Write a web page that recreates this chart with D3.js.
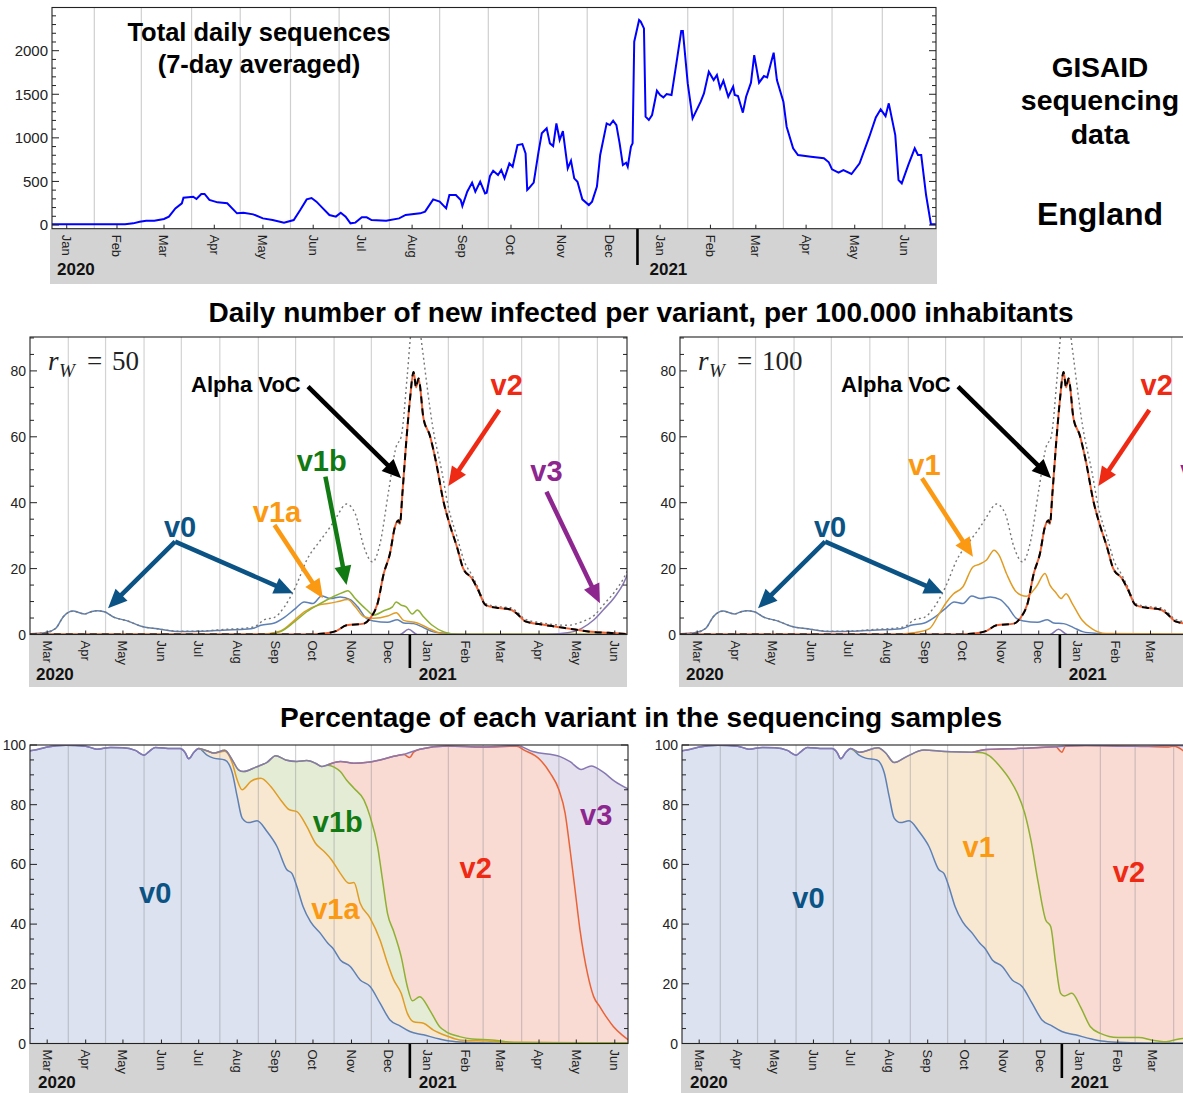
<!DOCTYPE html>
<html><head><meta charset="utf-8">
<script src="https://cdn.jsdelivr.net/npm/d3@7"></script>
<style>body{margin:0;background:#fff}svg{display:block;font-family:"Liberation Sans",Arial,Helvetica,sans-serif}</style>
</head><body><svg id="chart"></svg>
<script>
// ---------------- DATA ----------------
const seqYTicks = [0, 500, 1000, 1500, 2000];
const incYTicks = [0, 20, 40, 60, 80];
const pctYTicks = [0, 20, 40, 60, 80, 100];
const topMonthTicks = ["2020-01-15","2020-02-15","2020-03-15","2020-04-15","2020-05-15","2020-06-15","2020-07-15","2020-08-15","2020-09-15","2020-10-15","2020-11-15","2020-12-15","2021-01-15","2021-02-15","2021-03-15","2021-04-15","2021-05-15","2021-06-15"];
const topGridDates = ["2020-02-01","2020-03-01","2020-04-01","2020-05-01","2020-06-01","2020-07-01","2020-08-01","2020-09-01","2020-10-01","2020-11-01","2020-12-01","2021-02-01","2021-03-01","2021-04-01","2021-05-01","2021-06-01"];
const panelMonthTicks = ["2020-03-15","2020-04-15","2020-05-15","2020-06-15","2020-07-15","2020-08-15","2020-09-15","2020-10-15","2020-11-15","2020-12-15","2021-01-15","2021-02-15","2021-03-15","2021-04-15","2021-05-15","2021-06-15"];
const panelGridDates = ["2020-04-01","2020-05-01","2020-06-01","2020-07-01","2020-08-01","2020-09-01","2020-10-01","2020-11-01","2020-12-01","2021-02-01","2021-03-01","2021-04-01","2021-05-01","2021-06-01"];

// total daily sequences (7-day averaged)
const seqTotal = [["2020-01-05",8],["2020-02-20",8],["2020-02-25",19],["2020-02-29",38],["2020-03-04",50],["2020-03-09",50],["2020-03-15",69],["2020-03-18",96],["2020-03-22",191],["2020-03-26",249],["2020-03-27",314],["2020-04-02",325],["2020-04-04",298],["2020-04-07",356],["2020-04-09",356],["2020-04-12",287],["2020-04-17",260],["2020-04-23",249],["2020-04-29",134],["2020-05-03",141],["2020-05-09",122],["2020-05-15",76],["2020-05-21",57],["2020-05-28",27],["2020-06-03",57],["2020-06-07",172],["2020-06-11",294],["2020-06-14",310],["2020-06-17",268],["2020-06-21",191],["2020-06-25",115],["2020-06-29",96],["2020-07-02",141],["2020-07-05",96],["2020-07-08",19],["2020-07-11",27],["2020-07-15",88],["2020-07-18",88],["2020-07-21",57],["2020-07-30",50],["2020-08-07",76],["2020-08-11",115],["2020-08-20",134],["2020-08-23",153],["2020-08-28",294],["2020-09-01",268],["2020-09-05",191],["2020-09-07",344],["2020-09-11",344],["2020-09-14",287],["2020-09-15",218],["2020-09-18",382],["2020-09-21",486],["2020-09-23",382],["2020-09-26",497],["2020-09-29",363],["2020-09-30",371],["2020-10-02",560],["2020-10-04",623],["2020-10-07",574],["2020-10-09",631],["2020-10-11",535],["2020-10-14",707],["2020-10-16",669],["2020-10-19",918],["2020-10-22",929],["2020-10-24",822],["2020-10-25",402],["2020-10-26",421],["2020-10-29",486],["2020-11-01",841],["2020-11-03",1052],["2020-11-06",1109],["2020-11-08",937],["2020-11-10",906],["2020-11-12",1166],["2020-11-14",975],["2020-11-16",1078],["2020-11-19",650],["2020-11-21",738],["2020-11-23",535],["2020-11-25",497],["2020-11-28",294],["2020-12-02",229],["2020-12-04",268],["2020-12-07",440],["2020-12-09",803],["2020-12-13",1166],["2020-12-15",1147],["2020-12-17",1197],["2020-12-19",1147],["2020-12-21",937],["2020-12-23",688],["2020-12-25",715],["2020-12-26",669],["2020-12-28",899],["2020-12-29",937],["2020-12-30",2103],["2021-01-02",2352],["2021-01-03",2333],["2021-01-05",2256],["2021-01-06",1243],["2021-01-08",1205],["2021-01-10",1262],["2021-01-13",1541],["2021-01-15",1491],["2021-01-17",1465],["2021-01-19",1503],["2021-01-22",1491],["2021-01-25",1855],["2021-01-28",2226],["2021-01-29",2226],["2021-02-01",1625],["2021-02-04",1224],["2021-02-09",1415],["2021-02-11",1510],["2021-02-14",1759],["2021-02-17",1663],["2021-02-19",1721],["2021-02-21",1568],["2021-02-23",1656],["2021-02-26",1472],["2021-03-01",1587],["2021-03-02",1491],["2021-03-04",1480],["2021-03-07",1289],["2021-03-09",1472],["2021-03-12",1633],["2021-03-14",1950],["2021-03-17",1633],["2021-03-20",1709],["2021-03-22",1694],["2021-03-24",1836],["2021-03-26",1977],["2021-03-28",1663],["2021-04-01",1415],["2021-04-03",1128],["2021-04-07",880],["2021-04-10",803],["2021-04-18",784],["2021-04-26",765],["2021-04-29",719],["2021-05-01",639],["2021-05-05",600],["2021-05-08",631],["2021-05-13",585],["2021-05-18",707],["2021-05-24",1013],["2021-05-28",1235],["2021-05-31",1327],["2021-06-03",1250],["2021-06-05",1396],["2021-06-09",1032],["2021-06-11",516],["2021-06-13",478],["2021-06-17",688],["2021-06-21",880],["2021-06-23",803],["2021-06-25",803],["2021-06-28",344],["2021-07-01",8],["2021-07-04",8]];

// daily new infected per variant per 100,000
const incV0 = [["2020-03-01",0.2],["2020-03-14",0.6],["2020-03-22",1.9],["2020-03-28",5.4],["2020-04-05",7.1],["2020-04-10",6.6],["2020-04-14",6.2],["2020-04-20",7.0],["2020-04-24",7.2],["2020-04-30",6.9],["2020-05-08",5.2],["2020-05-18",4.2],["2020-05-29",2.6],["2020-06-14",1.6],["2020-06-30",0.9],["2020-07-19",1.0],["2020-08-07",1.4],["2020-08-18",1.5],["2020-08-28",1.9],["2020-09-03",2.8],["2020-09-14",3.5],["2020-09-22",5.2],["2020-09-30",7.6],["2020-10-08",9.9],["2020-10-15",9.4],["2020-10-22",11.7],["2020-10-29",10.9],["2020-11-06",11.4],["2020-11-14",10.6],["2020-11-20",8.4],["2020-11-27",4.9],["2020-12-03",4.1],["2020-12-14",3.7],["2020-12-22",4.5],["2020-12-27",3.5],["2021-01-04",3.3],["2021-01-12",2.1],["2021-01-20",0.8],["2021-02-01",0.3],["2021-02-15",0],["2021-06-26",0]];
const incV1a = [["2020-03-01",0],["2020-08-20",0],["2020-09-03",0.1],["2020-09-19",1.1],["2020-09-30",4.3],["2020-10-08",6.9],["2020-10-19",8.9],["2020-10-27",9.4],["2020-11-03",9.9],["2020-11-12",10.6],["2020-11-18",8.4],["2020-11-25",5.4],["2020-12-03",4.9],["2020-12-14",5.6],["2020-12-21",6.6],["2020-12-27",4.3],["2021-01-07",3.5],["2021-01-15",2.1],["2021-01-23",0.7],["2021-02-01",0.1],["2021-06-26",0]];
const incV1b = [["2020-03-01",0],["2020-08-25",0],["2020-09-08",0.1],["2020-09-19",0.9],["2020-09-30",3.8],["2020-10-10",6.9],["2020-10-21",9.4],["2020-11-01",11.6],["2020-11-09",12.9],["2020-11-12",13.3],["2020-11-18",10.9],["2020-11-27",7.6],["2020-12-03",5.9],["2020-12-11",7.2],["2020-12-18",8.4],["2020-12-21",9.9],["2020-12-25",8.9],["2020-12-29",8.4],["2021-01-03",6.2],["2021-01-07",7.4],["2021-01-12",5.4],["2021-01-19",2.8],["2021-01-29",0.7],["2021-02-08",0.1],["2021-06-26",0]];
const incV1 = [["2020-03-01",0],["2020-08-20",0],["2020-09-05",0.5],["2020-09-18",1.8],["2020-09-26",6.4],["2020-10-01",9.4],["2020-10-07",12.2],["2020-10-15",14.5],["2020-10-23",20.5],["2020-10-28",21.3],["2020-11-03",22.6],["2020-11-09",25.6],["2020-11-13",24.1],["2020-11-19",18.5],["2020-11-27",12.9],["2020-12-05",11.6],["2020-12-13",14.5],["2020-12-20",18.5],["2020-12-24",15],["2020-12-29",12.6],["2021-01-02",10.9],["2021-01-06",12.4],["2021-01-11",9.4],["2021-01-19",4.3],["2021-01-27",1.7],["2021-02-07",0.3],["2021-06-26",0]];
const incV2 = [["2020-03-01",0],["2020-10-10",0],["2020-10-24",0.3],["2020-11-03",1.1],["2020-11-11",2.8],["2020-11-25",3.3],["2020-11-30",4.9],["2020-12-06",9.4],["2020-12-11",18.5],["2020-12-16",24.6],["2020-12-20",32.7],["2020-12-23",34.7],["2020-12-24",33.5],["2020-12-26",42.8],["2020-12-29",58],["2021-01-01",71],["2021-01-04",79.7],["2021-01-06",75],["2021-01-08",77.7],["2021-01-12",65.5],["2021-01-17",60.5],["2021-01-22",52.5],["2021-01-28",40.5],["2021-02-02",33.5],["2021-02-08",26.5],["2021-02-13",20],["2021-02-20",17],["2021-02-25",13.5],["2021-03-03",8.9],["2021-03-12",8.1],["2021-03-23",7.6],["2021-03-28",6.4],["2021-04-04",4.0],["2021-04-16",3.1],["2021-04-30",2.3],["2021-05-14",1.5],["2021-05-27",0.8],["2021-06-10",0.5],["2021-06-26",0.1]];
const incV3 = [["2020-03-01",0],["2020-12-24",0],["2020-12-31",1.6],["2021-01-07",0],["2021-04-20",0],["2021-05-08",0.5],["2021-05-19",1.8],["2021-05-29",4.4],["2021-06-06",7.6],["2021-06-15",11.4],["2021-06-22",15.5],["2021-06-26",19]];
const incTotal = [["2020-03-01",0.2],["2020-03-14",0.6],["2020-03-22",1.9],["2020-03-28",5.4],["2020-04-05",7.1],["2020-04-10",6.6],["2020-04-14",6.2],["2020-04-20",7.0],["2020-04-24",7.2],["2020-04-30",6.9],["2020-05-08",5.2],["2020-05-18",4.2],["2020-05-29",2.6],["2020-06-14",1.6],["2020-06-30",1.0],["2020-07-19",1.1],["2020-08-07",1.6],["2020-08-18",1.8],["2020-08-29",2.4],["2020-09-06",4.5],["2020-09-14",5.2],["2020-09-22",8.4],["2020-10-01",14.5],["2020-10-10",22.6],["2020-10-21",28.6],["2020-10-29",32.7],["2020-11-03",35.7],["2020-11-11",39.6],["2020-11-18",36.7],["2020-11-25",26.6],["2020-12-02",22],["2020-12-08",27.6],["2020-12-15",43.8],["2020-12-21",57],["2020-12-25",60],["2020-12-30",79],["2021-01-02",92],["2021-01-05",96],["2021-01-08",97],["2021-01-10",90],["2021-01-12",84],["2021-01-19",64],["2021-01-27",49],["2021-02-01",38.7],["2021-02-08",29.6],["2021-02-14",22],["2021-02-20",18],["2021-02-25",14.2],["2021-03-03",9.4],["2021-03-12",8.5],["2021-03-23",8.1],["2021-03-28",7],["2021-04-04",4.6],["2021-04-16",3.6],["2021-04-30",2.9],["2021-05-08",2.8],["2021-05-19",3.8],["2021-05-30",6],["2021-06-07",9.5],["2021-06-15",13],["2021-06-22",17],["2021-06-26",20]];

// percentage in sequencing samples (cumulative boundaries)
const pctV0 = [["2020-02-29",98.0],["2020-03-08",98.6],["2020-03-15",99.3],["2020-03-30",99.9],["2020-04-15",99.6],["2020-04-24",98.6],["2020-05-05",99.2],["2020-05-15",99.1],["2020-05-25",98.2],["2020-06-01",96.6],["2020-06-05",97.8],["2020-06-10",99.2],["2020-06-23",98.8],["2020-06-30",98.8],["2020-07-04",97.5],["2020-07-07",95.4],["2020-07-11",97.5],["2020-07-15",98.8],["2020-07-22",96.5],["2020-07-27",95.6],["2020-08-05",95],["2020-08-11",90.7],["2020-08-15",82.7],["2020-08-19",75.5],["2020-08-24",74],["2020-08-31",74.6],["2020-09-08",71],["2020-09-16",66],["2020-09-24",58.2],["2020-09-28",57],["2020-10-02",52.6],["2020-10-07",45.9],["2020-10-13",40.8],["2020-10-21",36.9],["2020-10-27",33.6],["2020-10-31",31.9],["2020-11-06",28],["2020-11-14",25.8],["2020-11-22",21.3],["2020-11-30",19.1],["2020-12-08",13.5],["2020-12-16",7.9],["2020-12-24",5.9],["2021-01-01",4.0],["2021-01-12",2.9],["2021-01-25",1.5],["2021-02-02",0.8],["2021-02-15",0.4],["2021-03-10",0.2],["2021-06-26",0.1]];
const pctTopL = [["2020-02-29",98.0],["2020-03-08",98.6],["2020-03-15",99.3],["2020-03-30",99.9],["2020-04-15",99.6],["2020-04-24",98.6],["2020-05-05",99.2],["2020-05-15",99.1],["2020-05-25",98.2],["2020-06-01",96.6],["2020-06-05",97.8],["2020-06-10",99.2],["2020-06-23",98.8],["2020-06-30",98.8],["2020-07-04",97.5],["2020-07-07",95.4],["2020-07-11",97.5],["2020-07-15",98.8],["2020-07-22",98],["2020-07-27",97.3],["2020-08-05",98.2],["2020-08-11",95],["2020-08-16",91.7],["2020-08-20",91.1],["2020-08-30",92.6],["2020-09-08",94.2],["2020-09-15",96.4],["2020-09-23",95],["2020-10-02",94.5],["2020-10-10",94.8],["2020-10-17",93.9],["2020-10-22",92.8],["2020-10-27",93.4],["2020-11-06",94.5],["2020-11-17",93.9],["2020-11-28",94.2],["2020-12-08",95],["2020-12-19",96.2],["2020-12-29",97.1],["2021-01-09",98.6],["2021-01-31",99.7],["2021-03-01",99.3],["2021-03-28",99.8],["2021-04-10",97.8],["2021-05-02",96.1],["2021-05-10",94.4],["2021-05-19",91.8],["2021-05-27",93],["2021-06-06",90.8],["2021-06-15",87.8],["2021-06-26",85.2]];
const pctV1aL = [["2020-07-15",98.8],["2020-07-22",98],["2020-07-27",97.3],["2020-08-05",97.9],["2020-08-11",94],["2020-08-15",88.3],["2020-08-19",85],["2020-08-26",87.8],["2020-09-03",88.9],["2020-09-11",86.1],["2020-09-19",81.6],["2020-09-26",78.3],["2020-10-02",77.7],["2020-10-10",72.7],["2020-10-17",67.1],["2020-10-24",64.3],["2020-10-30",61.5],["2020-11-06",57],["2020-11-13",53.7],["2020-11-17",53.9],["2020-11-22",47],["2020-11-30",42],["2020-12-08",34.7],["2020-12-14",26.9],["2020-12-19",21.3],["2020-12-25",16.8],["2020-12-30",10.1],["2021-01-04",7.3],["2021-01-12",6.8],["2021-01-20",4.5],["2021-01-31",2.5],["2021-02-10",1.2],["2021-03-04",0.8],["2021-03-22",0.4],["2021-06-26",0.2]];
const pctV1bL = [["2020-07-15",98.8],["2020-07-22",98],["2020-07-27",97.3],["2020-08-05",98.2],["2020-08-11",95],["2020-08-16",91.7],["2020-08-20",91.1],["2020-08-30",92.6],["2020-09-08",94.2],["2020-09-15",96.4],["2020-09-23",95],["2020-10-02",94.5],["2020-10-10",94.8],["2020-10-17",93.9],["2020-10-22",92.8],["2020-10-27",93.2],["2020-11-01",92.6],["2020-11-06",91.1],["2020-11-11",88.3],["2020-11-17",85.5],["2020-11-25",81.6],["2020-11-30",76],["2020-12-06",66],["2020-12-10",54.8],["2020-12-14",43.6],["2020-12-19",37.5],["2020-12-25",29.1],["2020-12-30",19],["2021-01-03",14.3],["2021-01-09",15.7],["2021-01-17",11.2],["2021-01-25",5.6],["2021-01-30",4],["2021-02-10",2.3],["2021-02-20",1.5],["2021-03-08",1.2],["2021-03-19",0.6],["2021-03-29",0.3],["2021-06-26",0.2]];
const pctV2L = [["2020-10-27",93.4],["2020-11-06",94.5],["2020-11-17",93.9],["2020-11-28",94.2],["2020-12-08",95],["2020-12-19",96.2],["2020-12-27",96.8],["2021-01-01",95.8],["2021-01-04",97.6],["2021-01-09",98.6],["2021-01-31",99.7],["2021-03-01",99.3],["2021-03-28",99.6],["2021-04-03",98.3],["2021-04-16",95],["2021-04-24",90.6],["2021-05-01",85],["2021-05-06",77.2],["2021-05-10",64.9],["2021-05-14",51.5],["2021-05-18",38],["2021-05-24",23.5],["2021-05-29",15.7],["2021-06-03",12.3],["2021-06-09",8.4],["2021-06-14",5.6],["2021-06-21",2.8],["2021-06-26",1.2]];
const pctTopR = [["2020-02-29",98.0],["2020-03-08",98.6],["2020-03-15",99.3],["2020-03-30",99.9],["2020-04-15",99.6],["2020-04-24",98.6],["2020-05-05",99.2],["2020-05-15",99.1],["2020-05-25",98.2],["2020-06-01",96.6],["2020-06-05",97.8],["2020-06-10",99.2],["2020-06-23",98.8],["2020-06-30",98.8],["2020-07-04",97.5],["2020-07-07",95.4],["2020-07-11",97.5],["2020-07-15",98.8],["2020-07-22",97.6],["2020-08-06",99.1],["2020-08-12",97.4],["2020-08-19",94.1],["2020-08-29",96.1],["2020-09-12",98.3],["2020-09-29",97.8],["2020-10-21",97.6],["2020-11-01",98.5],["2020-11-29",98.9],["2020-12-27",99.4],["2021-01-04",99.7],["2021-01-20",99.8],["2021-03-01",99.6],["2021-04-01",99.8],["2021-06-26",99.5]];
const pctV1R = [["2020-07-15",98.8],["2020-07-22",97.6],["2020-08-06",99.1],["2020-08-12",97.4],["2020-08-19",94.1],["2020-08-29",96.1],["2020-09-12",98.3],["2020-09-29",97.8],["2020-10-21",97.6],["2020-10-29",97.4],["2020-11-04",96.3],["2020-11-12",92.9],["2020-11-20",88.5],["2020-11-26",84],["2020-12-02",77.3],["2020-12-07",68.3],["2020-12-13",53.8],["2020-12-19",41.4],["2020-12-23",39.2],["2020-12-27",26.9],["2020-12-31",16.8],["2021-01-03",15.9],["2021-01-09",16.8],["2021-01-16",12.3],["2021-01-24",5.6],["2021-02-01",3.4],["2021-02-15",2],["2021-03-04",2],["2021-03-15",1.1],["2021-03-26",0.6],["2021-04-08",1.7],["2021-06-26",0.5]];
const pctV2R = [["2020-10-21",97.6],["2020-11-01",98.5],["2020-11-29",98.9],["2020-12-27",99.4],["2021-01-01",97.6],["2021-01-04",99.7],["2021-01-20",99.8],["2021-03-01",99.6],["2021-03-28",99.3],["2021-04-01",99.6],["2021-04-16",95],["2021-05-01",85],["2021-05-14",51.5],["2021-05-29",15.7],["2021-06-26",1.2]];

// ---------------- RENDER ----------------
const WIDTH = 1183, HEIGHT = 1093;
const P = d3.timeParse("%Y-%m-%d");
const fmtM = d3.timeFormat("%b");
const svg = d3.select("#chart").attr("width", WIDTH).attr("height", HEIGHT);
const LC = {v0:"#5e81b5", v1:"#e19c24", v1b:"#8fb032", v2:"#eb6235", v3:"#8778b3"};
const TC = {v0:"#0b5384", v1:"#fb9912", v1b:"#127a12", v2:"#ef2a14", v3:"#8e2690"};
const FC = {v0:"#dce2ef", v1:"#f8e8d2", v1b:"#e5ecd6", v2:"#f9dbd3", v3:"#e4e0ee"};

const xTop = d3.scaleTime().domain([P("2020-02-01"), P("2021-06-01")]).range([94.3, 882.3]);
const yTop = d3.scaleLinear().domain([0, 2000]).range([225, 50.7]);
const xPan = d3.scaleTime().domain([P("2020-04-01"), P("2021-06-01")]).range([68.3, 597.4]);
const yInc = d3.scaleLinear().domain([0, 80]).range([634.5, 370.9]);
const yPct = d3.scaleLinear().domain([0, 100]).range([1043.5, 745]);

let clipN = 0;
function clip(g, o) {
  const id = "clip" + (clipN++);
  g.append("clipPath").attr("id", id).append("rect").attr("x", o.x0).attr("y", o.yTop).attr("width", o.x1 - o.x0).attr("height", o.yBot - o.yTop);
  return "url(#" + id + ")";
}
function grid(g, x, o, dates, stroke, op) {
  g.append("g").selectAll("line").data(dates).join("line")
    .attr("x1", d => x(P(d))).attr("x2", d => x(P(d))).attr("y1", o.yTop).attr("y2", o.yBot)
    .attr("stroke", stroke).attr("stroke-opacity", op).attr("stroke-width", 1.2);
}
function axes(g, x, y, o) {
  const dx = o.dx || 0;
  g.append("rect").attr("x", o.bx0).attr("y", o.yBot + 0.5).attr("width", o.bx1 - o.bx0).attr("height", o.bandBot - o.yBot - 0.5).attr("fill", "#d3d3d3");
  o.months.forEach(m => {
    const d = P(m), xx = x(d);
    g.append("line").attr("x1", xx).attr("x2", xx).attr("y1", o.yBot).attr("y2", o.yBot - 4).attr("stroke", "#222");
    if (dx + xx + 9 > WIDTH) return; // label lies outside the visible picture
    g.append("text").attr("transform", `translate(${xx},${o.yBot + 6}) rotate(90)`).attr("dy", "0.35em")
      .attr("font-size", 13).attr("fill", "#222").text(fmtM(d));
  });
  const xd = x(P("2021-01-01"));
  g.append("line").attr("x1", xd).attr("x2", xd).attr("y1", o.yBot).attr("y2", o.divBot).attr("stroke", "#000").attr("stroke-width", 2.6);
  g.append("text").attr("x", o.x0 + o.yx0).attr("y", o.yearY).attr("font-size", 17).attr("font-weight", "bold").attr("fill", "#111").text("2020");
  g.append("text").attr("x", xd + o.yx1).attr("y", o.yearY).attr("font-size", 17).attr("font-weight", "bold").attr("fill", "#111").text("2021");
  const minor = d3.range(o.yMin, o.yMax + 0.001, o.minorStep);
  minor.forEach(v => {
    const yy = y(v), len = (v % o.majorStep === 0) ? 7 : 4;
    g.append("line").attr("x1", o.x0).attr("x2", o.x0 + len).attr("y1", yy).attr("y2", yy).attr("stroke", "#222");
    g.append("line").attr("x1", o.x1).attr("x2", o.x1 - len).attr("y1", yy).attr("y2", yy).attr("stroke", "#222");
  });
  o.major.forEach(v => {
    g.append("text").attr("x", o.x0 - 4).attr("y", y(v)).attr("dy", "0.36em").attr("text-anchor", "end")
      .attr("font-size", o.tickFont).attr("fill", "#222").text(v);
  });
  g.append("rect").attr("x", o.x0).attr("y", o.yTop).attr("width", o.x1 - o.x0).attr("height", o.yBot - o.yTop)
    .attr("fill", "none").attr("stroke", "#222").attr("stroke-width", 1.1);
}
const line = (x, y, c) => d3.line().x(d => x(P(d[0]))).y(d => y(d[1])).curve(c);
const area = (x, y, c) => d3.area().x(d => x(P(d[0]))).y0(y(0)).y1(d => y(d[1])).curve(c);
function arrow(g, x1, y1, x2, y2, color) {
  const dx = x2 - x1, dy = y2 - y1, L = Math.hypot(dx, dy), ux = dx / L, uy = dy / L;
  const hl = 19, hw = 17, bx = x2 - ux * hl, by = y2 - uy * hl;
  g.append("line").attr("x1", x1).attr("y1", y1).attr("x2", bx + ux * 3).attr("y2", by + uy * 3).attr("stroke", color).attr("stroke-width", 4.5);
  g.append("path").attr("d", `M${x2},${y2}L${bx - uy * hw / 2},${by + ux * hw / 2}L${bx + uy * hw / 2},${by - ux * hw / 2}Z`).attr("fill", color);
}
function label(g, x, y, t, color, size) {
  g.append("text").attr("x", x).attr("y", y).attr("text-anchor", "middle").attr("font-size", size).attr("font-weight", "bold").attr("fill", color).text(t);
}

// ---------- TOP PANEL ----------
{
  const g = svg.append("g");
  const o = {x0: 52, x1: 936, yTop: 7.5, yBot: 228.7, bx0: 50, bx1: 937, bandBot: 284, divBot: 265, yearY: 275, yx0: 5, yx1: 12,
    months: topMonthTicks, yMin: 0, yMax: 2400, minorStep: 100, majorStep: 500, major: seqYTicks, tickFont: 15};
  grid(g, xTop, o, topGridDates, "#cfcfcf", 1);
  const cp = clip(g, o);
  g.append("path").attr("clip-path", cp).attr("d", line(xTop, yTop, d3.curveLinear)(seqTotal))
    .attr("fill", "none").attr("stroke", "#0000ff").attr("stroke-width", 2);
  axes(g, xTop, yTop, o);
  g.append("text").attr("x", 259).attr("y", 41).attr("text-anchor", "middle").attr("font-size", 25.5).attr("font-weight", "bold").text("Total daily sequences");
  g.append("text").attr("x", 259).attr("y", 73).attr("text-anchor", "middle").attr("font-size", 25.5).attr("font-weight", "bold").text("(7-day averaged)");
}
svg.append("text").attr("x", 1100).attr("y", 77).attr("text-anchor", "middle").attr("font-size", 28).attr("font-weight", "bold").text("GISAID");
svg.append("text").attr("x", 1100).attr("y", 110).attr("text-anchor", "middle").attr("font-size", 28.5).attr("font-weight", "bold").text("sequencing");
svg.append("text").attr("x", 1100).attr("y", 144).attr("text-anchor", "middle").attr("font-size", 28.5).attr("font-weight", "bold").text("data");
svg.append("text").attr("x", 1100).attr("y", 225).attr("text-anchor", "middle").attr("font-size", 32).attr("font-weight", "bold").text("England");
svg.append("text").attr("x", 641).attr("y", 322).attr("text-anchor", "middle").attr("font-size", 28).attr("font-weight", "bold").text("Daily number of new infected per variant, per 100.000 inhabitants");
svg.append("text").attr("x", 641).attr("y", 727).attr("text-anchor", "middle").attr("font-size", 28).attr("font-weight", "bold").text("Percentage of each variant in the sequencing samples");

// ---------- MIDDLE PANELS ----------
function incPanel(dx, variant) {
  const g = svg.append("g").attr("transform", `translate(${dx},0)`);
  const o = {dx, x0: 30, x1: 627, yTop: 337, yBot: 634.5, bx0: 29, bx1: 627, bandBot: 687, divBot: 668, yearY: 680, yx0: 6, yx1: 9,
    months: panelMonthTicks, yMin: 0, yMax: 90, minorStep: 5, majorStep: 20, major: incYTicks, tickFont: 14};
  grid(g, xPan, o, panelGridDates, "#d3d3d3", 1);
  const cp = clip(g, o);
  const lc = g.append("g").attr("clip-path", cp).attr("fill", "none");
  const L = line(xPan, yInc, d3.curveMonotoneX);
  lc.append("path").attr("d", L(incV0)).attr("stroke", LC.v0).attr("stroke-width", 1.5);
  if (variant === "split") {
    lc.append("path").attr("d", L(incV1a)).attr("stroke", LC.v1).attr("stroke-width", 1.5);
    lc.append("path").attr("d", L(incV1b)).attr("stroke", LC.v1b).attr("stroke-width", 1.5);
  } else {
    lc.append("path").attr("d", L(incV1)).attr("stroke", LC.v1).attr("stroke-width", 1.5);
  }
  lc.append("path").attr("d", L(incV3)).attr("stroke", LC.v3).attr("stroke-width", 1.5);
  lc.append("path").attr("d", L(incTotal)).attr("stroke", "#777").attr("stroke-width", 1.4).attr("stroke-dasharray", "2,3");
  lc.append("path").attr("d", L(incV2)).attr("stroke", LC.v2).attr("stroke-width", 2);
  lc.append("path").attr("d", L(incV2)).attr("stroke", "#000").attr("stroke-width", 2).attr("stroke-dasharray", "7,5");
  axes(g, xPan, yInc, o);
  const X = s => xPan(P(s)), Y = v => yInc(v);
  const rw = g.append("text").attr("font-family", "'Liberation Serif','DejaVu Serif',serif").attr("fill", "#222");
  rw.append("tspan").attr("x", 48).attr("y", 370).attr("font-size", 27).attr("font-style", "italic").text("r");
  rw.append("tspan").attr("x", 59).attr("y", 377).attr("font-size", 19).attr("font-style", "italic").text("W");
  rw.append("tspan").attr("x", 87).attr("y", 370).attr("font-size", 27).text("=");
  rw.append("tspan").attr("x", 112).attr("y", 370).attr("font-size", 27).text(variant === "split" ? "50" : "100");
  label(g, X("2020-08-22"), Y(73.6), "Alpha VoC", "#000", 22);
  arrow(g, X("2020-10-11"), Y(75.2), X("2020-12-25"), Y(47.4), "#000");
  label(g, X("2021-03-20"), Y(72.7), "v2", TC.v2, 29);
  arrow(g, X("2021-03-14"), Y(68.1), X("2021-02-01"), Y(45.1), TC.v2);
  label(g, X("2021-04-21"), Y(46.6), "v3", TC.v3, 29);
  arrow(g, X("2021-04-21"), Y(43.3), X("2021-06-03"), Y(9.5), TC.v3);
  label(g, X("2020-06-30"), Y(29.6), "v0", TC.v0, 29);
  arrow(g, X("2020-06-26"), Y(28.2), X("2020-05-03"), Y(8.0), TC.v0);
  arrow(g, X("2020-06-26"), Y(28.2), X("2020-09-29"), Y(12.5), TC.v0);
  if (variant === "split") {
    label(g, X("2020-10-22"), Y(49.6), "v1b", TC.v1b, 29);
    arrow(g, X("2020-10-25"), Y(47.9), X("2020-11-11"), Y(15.0), TC.v1b);
    label(g, X("2020-09-16"), Y(34.1), "v1a", TC.v1, 29);
    arrow(g, X("2020-09-14"), Y(33.2), X("2020-10-23"), Y(11.0), TC.v1);
  } else {
    label(g, X("2020-09-14"), Y(48.4), "v1", TC.v1, 29);
    arrow(g, X("2020-09-12"), Y(47.4), X("2020-10-23"), Y(23.6), TC.v1);
  }
}
incPanel(0, "split");
incPanel(650, "merged");

// ---------- BOTTOM PANELS ----------
function pctPanel(dx, layers, labels) {
  const g = svg.append("g").attr("transform", `translate(${dx},0)`);
  const o = {dx, x0: 30, x1: 628, yTop: 745, yBot: 1043.5, bx0: 29, bx1: 628, bandBot: 1093, divBot: 1078, yearY: 1088, yx0: 8, yx1: 9,
    months: panelMonthTicks, yMin: 0, yMax: 100, minorStep: 5, majorStep: 20, major: pctYTicks, tickFont: 14};
  const cp = clip(g, o);
  const fg = g.append("g").attr("clip-path", cp);
  const A = area(xPan, yPct, d3.curveMonotoneX), L = line(xPan, yPct, d3.curveMonotoneX);
  layers.forEach(l => fg.append("path").attr("d", A(l.data)).attr("fill", l.fill));
  grid(g, xPan, o, panelGridDates, "#7a7f88", 0.35);
  const lg = g.append("g").attr("clip-path", cp).attr("fill", "none");
  layers.slice().reverse().forEach(l => lg.append("path").attr("d", L(l.data)).attr("stroke", l.stroke).attr("stroke-width", 1.5));
  axes(g, xPan, yPct, o);
  labels.forEach(t => label(g, xPan(P(t[1])), yPct(t[2]), t[0], t[3], 29));
}
pctPanel(0, [
  {data: pctTopL, fill: FC.v3, stroke: LC.v3},
  {data: pctV2L, fill: FC.v2, stroke: LC.v2},
  {data: pctV1bL, fill: FC.v1b, stroke: LC.v1b},
  {data: pctV1aL, fill: FC.v1, stroke: LC.v1},
  {data: pctV0, fill: FC.v0, stroke: LC.v0}
], [["v0","2020-06-10",47.1,TC.v0],["v1b","2020-11-04",70.9,TC.v1b],["v1a","2020-11-02",41.7,TC.v1],["v2","2021-02-23",55.4,TC.v2],["v3","2021-05-31",73.2,TC.v3]]);
pctPanel(652, [
  {data: pctTopR, fill: FC.v3, stroke: LC.v3},
  {data: pctV2R, fill: FC.v2, stroke: LC.v2},
  {data: pctV1R, fill: FC.v1, stroke: LC.v1b},
  {data: pctV0, fill: FC.v0, stroke: LC.v0}
], [["v0","2020-06-11",45.4,TC.v0],["v1","2020-10-26",62.5,TC.v1],["v2","2021-02-24",54.1,TC.v2]]);
</script></body></html>
